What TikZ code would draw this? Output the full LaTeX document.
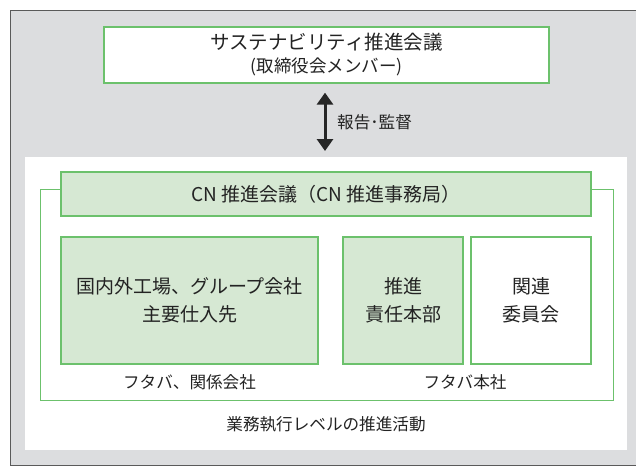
\documentclass[tikz,border=0pt]{standalone}
\usepackage{fontspec}
\setmainfont{Noto Sans CJK JP}
\usetikzlibrary{arrows.meta}
\definecolor{bggray}{HTML}{DCDDDF}
\definecolor{edgegray}{HTML}{5A5A5A}
\definecolor{gline}{HTML}{6CC16C}
\definecolor{gfill}{HTML}{D6E8D3}
\definecolor{txt}{HTML}{232323}
\tikzset{
  panel/.style={draw=gline, line width=1.3pt, inner sep=0pt, align=center, text=txt, font=\fontsize{19}{28}\selectfont},
  gpanel/.style={panel, fill=gfill},
  wpanel/.style={panel, fill=white},
  lbl/.style={text=txt, inner sep=0pt, font=\fontsize{16.6}{20}\selectfont},
  arr/.style={line width=3pt, draw=black!85, {Triangle[width=16pt,length=12pt]}-{Triangle[width=16pt,length=12pt]}}
}
\begin{document}
\begin{tikzpicture}[x=1pt,y=-1pt]
\useasboundingbox (0,0) rectangle (636,472);
% outer gray area
\node[draw=edgegray, fill=bggray, line width=0.9pt, minimum width=640pt, minimum height=455pt, inner sep=0pt, anchor=north west] (outer) at (10,10) {};
% top council
\node[wpanel, minimum width=445pt, minimum height=56pt, font=\fontsize{19.5}{23}\selectfont] (top) at (326.5,55)
  {サステナビリティ推進会議\\{\fontsize{17.5}{20}\selectfont (取締役会メンバー)}};
% white execution area
\node[fill=white, inner sep=0pt, minimum width=602pt, minimum height=293pt, anchor=north west] (exec) at (25,157) {};
% green frame
\node[draw=gline, line width=1.3pt, inner sep=0pt, minimum width=573pt, minimum height=211pt, anchor=north west] (frame) at (40,189) {};
% CN council
\node[gpanel, minimum width=530pt, minimum height=44pt] (cn) at (326,194) {CN 推進会議（CN 推進事務局）};
% lower boxes
\node[gpanel, minimum width=257pt, minimum height=127pt] (plants) at (189.5,300.5) {国内外工場、グループ会社\\主要仕入先};
\node[gpanel, minimum width=120pt, minimum height=127pt] (hq) at (403,300.5) {推進\\責任本部};
\node[wpanel, minimum width=120pt, minimum height=127pt] (comm) at (531,300.5) {関連\\委員会};
% labels
\node[lbl] (lab1) at (189.5,382) {フタバ、関係会社};
\node[lbl] (lab2) at (465,382) {フタバ本社};
\node[lbl] (lab3) at (326,424) {業務執行レベルの推進活動};
% arrow
\draw[arr, shorten <=9pt, shorten >=6pt] (top.south -| 325,0) -- (exec.north -| 325,0);
\node[lbl, anchor=west] (rep) at (337,122) {報告･監督};
\end{tikzpicture}
\end{document}
